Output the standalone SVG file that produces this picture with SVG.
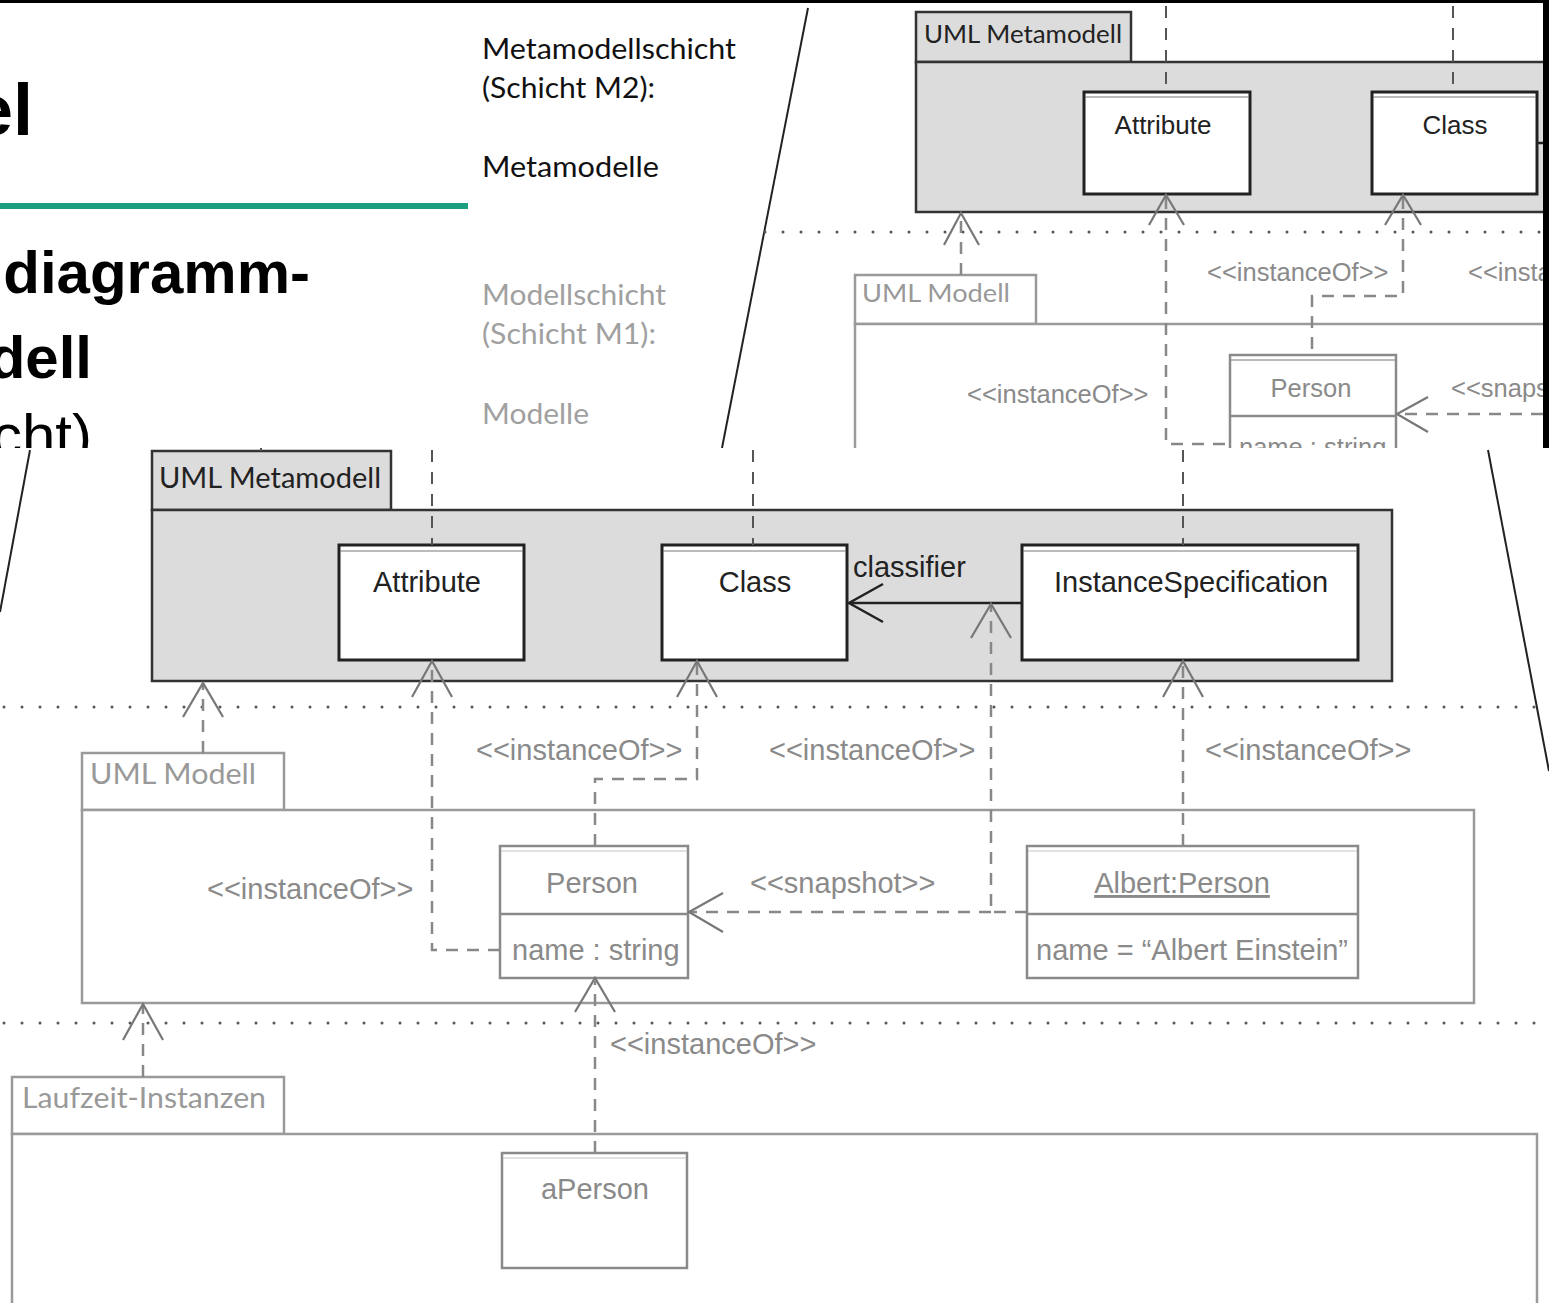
<svg xmlns="http://www.w3.org/2000/svg" width="1549" height="1303" viewBox="0 0 1549 1303">
<defs>
<style>
.ttl{font-family:"Liberation Sans",Arial,sans-serif;font-weight:bold;fill:#000}
.ttr{font-family:"Liberation Sans",Arial,sans-serif;fill:#000}
.cal{font-family:Lato,"Open Sans",sans-serif}
.ar{font-family:"Liberation Sans",Arial,sans-serif}
.pkgd{fill:#dcdcdc;stroke:#333;stroke-width:2.5}
.boxd{fill:#fff;stroke:#222;stroke-width:3}
.inner{fill:none;stroke:#777;stroke-width:1}
.pkgl{fill:#fff;stroke:#9a9a9a;stroke-width:2.5}
.boxl{fill:#fff;stroke:#8a8a8a;stroke-width:2.5}
.dashd{fill:none;stroke:#555;stroke-width:2;stroke-dasharray:12 10}
.dashl{fill:none;stroke:#888;stroke-width:2.5;stroke-dasharray:12 9}
.dots{fill:none;stroke:#555;stroke-width:3;stroke-dasharray:0 18;stroke-linecap:round}
.head{fill:none;stroke:#777;stroke-width:2.2}
.headd{fill:none;stroke:#222;stroke-width:2.5}
.zoomln{fill:none;stroke:#222;stroke-width:2}
.td{fill:#222}
.tg{fill:#8a8a8a}
.tc{fill:#999}
</style>
<clipPath id="clipTop"><rect x="0" y="0" width="1543" height="448"/></clipPath>
</defs>
<rect x="0" y="0" width="1549" height="1303" fill="#fff"/>

<!-- ===== Upper slide region ===== -->
<g id="slide" clip-path="url(#clipTop)">
  <text class="ttl" x="33" y="135" font-size="72" text-anchor="end">el</text>
  <rect x="0" y="203" width="468" height="6" fill="#1b9e7f"/>
  <text class="ttl" x="310" y="293" font-size="60" text-anchor="end">diagramm-</text>
  <text class="ttl" x="92" y="378" font-size="60" text-anchor="end">dell</text>
  <text class="ttr" x="92" y="456" font-size="60" text-anchor="end">cht)</text>

  <g id="layer-labels" class="cal" font-size="29">
    <text x="482" y="59" fill="#111" textLength="254" lengthAdjust="spacingAndGlyphs">Metamodellschicht</text>
    <text x="482" y="98" fill="#111" textLength="173" lengthAdjust="spacingAndGlyphs">(Schicht M2):</text>
    <text x="482" y="177" fill="#111" textLength="177" lengthAdjust="spacingAndGlyphs">Metamodelle</text>
    <text x="482" y="305" fill="#a0a0a0" textLength="184" lengthAdjust="spacingAndGlyphs">Modellschicht</text>
    <text x="482" y="344" fill="#a0a0a0" textLength="174" lengthAdjust="spacingAndGlyphs">(Schicht M1):</text>
    <text x="482" y="424" fill="#a0a0a0" textLength="107" lengthAdjust="spacingAndGlyphs">Modelle</text>
  </g>

  <line class="zoomln" x1="808" y1="8" x2="722" y2="448"/>

  <!-- small diagram (upper right) -->
  <g id="top-uml-metamodell">
    <rect class="pkgd" x="916" y="12" width="215" height="50"/>
    <rect class="pkgd" x="916" y="62" width="660" height="150"/>
    <text class="cal td" x="924" y="43" font-size="25" textLength="198" lengthAdjust="spacingAndGlyphs">UML Metamodell</text>
  </g>
  <g id="top-attribute">
    <rect class="boxd" x="1084" y="92" width="166" height="102"/>
    <line class="inner" x1="1085" y1="97" x2="1249" y2="97"/>
    <text class="ar td" x="1163" y="134" font-size="26" text-anchor="middle">Attribute</text>
  </g>
  <g id="top-class">
    <rect class="boxd" x="1372" y="92" width="165" height="102"/>
    <line class="inner" x1="1373" y1="97" x2="1536" y2="97"/>
    <text class="ar td" x="1455" y="134" font-size="26" text-anchor="middle">Class</text>
  </g>
  <g id="top-uml-modell">
    <rect class="pkgl" x="855" y="275" width="181" height="49"/>
    <rect class="pkgl" x="855" y="324" width="720" height="200"/>
    <text class="cal tc" x="862" y="302" font-size="25" textLength="148" lengthAdjust="spacingAndGlyphs">UML Modell</text>
  </g>
  <g id="top-person">
    <rect class="boxl" x="1230" y="355" width="166" height="120"/>
    <line class="inner" x1="1231" y1="360" x2="1395" y2="360" stroke="#bbb"/>
    <line x1="1230" y1="416" x2="1396" y2="416" stroke="#8a8a8a" stroke-width="2.5"/>
    <text class="ar tg" x="1311" y="397" font-size="25.5" text-anchor="middle">Person</text>
    <text class="ar tg" x="1239" y="456" font-size="25.5">name : string</text>
  </g>
  <g id="top-connectors">
    <line class="dashd" x1="1166" y1="6" x2="1166" y2="92"/>
    <line class="dashd" x1="1453" y1="6" x2="1453" y2="92"/>
    <line class="dots" x1="765" y1="232" x2="1543" y2="232"/>
    <path class="dashl" d="M961,275 V214"/>
    <polyline class="head" points="944,245 961,213 979,245"/>
    <path class="dashl" d="M1166,197 V444 H1230"/>
    <polyline class="head" points="1149,225 1166,195 1184,225"/>
    <path class="dashl" d="M1403,197 V296 H1312 V355"/>
    <polyline class="head" points="1385,225 1403,195 1421,225"/>
    <path class="dashl" d="M1543,414 H1398"/>
    <polyline class="head" points="1428,397 1397,414 1428,432"/>
    <line x1="1537" y1="143" x2="1543" y2="143" stroke="#222" stroke-width="2.5"/>
  </g>
  <g id="top-labels" class="ar tg" font-size="25.5">
    <text x="1207" y="281">&lt;&lt;instanceOf&gt;&gt;</text>
    <text x="1468" y="281">&lt;&lt;insta</text>
    <text x="967" y="403">&lt;&lt;instanceOf&gt;&gt;</text>
    <text x="1451" y="397">&lt;&lt;snaps</text>
  </g>
</g>
<rect x="0" y="0" width="1549" height="3" fill="#000"/>
<rect x="1543" y="0" width="6" height="448" fill="#000"/>

<!-- ===== Lower (enlarged) region ===== -->
<rect x="0" y="448" width="1549" height="855" fill="#fff"/>

<g id="uml-metamodell">
  <rect class="pkgd" x="152" y="451" width="239" height="59"/>
  <rect class="pkgd" x="152" y="510" width="1240" height="171"/>
  <line x1="261" y1="448" x2="261" y2="451" stroke="#555" stroke-width="2"/>
  <text class="cal td" x="159" y="488" font-size="28" textLength="222" lengthAdjust="spacingAndGlyphs">UML Metamodell</text>
</g>
<g id="attribute">
  <rect class="boxd" x="339" y="545" width="185" height="115"/>
  <line class="inner" x1="340" y1="551" x2="523" y2="551"/>
  <text class="ar td" x="427" y="592" font-size="29" text-anchor="middle">Attribute</text>
</g>
<g id="class">
  <rect class="boxd" x="662" y="545" width="185" height="115"/>
  <line class="inner" x1="663" y1="551" x2="846" y2="551"/>
  <text class="ar td" x="755" y="592" font-size="29" text-anchor="middle">Class</text>
</g>
<g id="instance-specification">
  <rect class="boxd" x="1022" y="545" width="336" height="115"/>
  <line class="inner" x1="1023" y1="551" x2="1357" y2="551"/>
  <text class="ar td" x="1191" y="592" font-size="29" text-anchor="middle">InstanceSpecification</text>
</g>

<g id="uml-modell">
  <rect class="pkgl" x="82" y="753" width="202" height="57"/>
  <rect class="pkgl" x="82" y="810" width="1392" height="193"/>
  <text class="cal tc" x="90" y="784" font-size="28" textLength="166" lengthAdjust="spacingAndGlyphs">UML Modell</text>
</g>
<g id="person">
  <rect class="boxl" x="500" y="846" width="188" height="132"/>
  <line x1="501" y1="851" x2="687" y2="851" stroke="#c4c4c4" stroke-width="1"/>
  <line x1="500" y1="914" x2="688" y2="914" stroke="#8a8a8a" stroke-width="2.5"/>
  <text class="ar tg" x="592" y="893" font-size="29" text-anchor="middle">Person</text>
  <text class="ar tg" x="512" y="960" font-size="29">name : string</text>
</g>
<g id="albert-person">
  <rect class="boxl" x="1027" y="846" width="331" height="132"/>
  <line x1="1028" y1="851" x2="1357" y2="851" stroke="#c4c4c4" stroke-width="1"/>
  <line x1="1027" y1="914" x2="1358" y2="914" stroke="#8a8a8a" stroke-width="2.5"/>
  <text class="ar tg" x="1182" y="893" font-size="29" text-anchor="middle" text-decoration="underline">Albert:Person</text>
  <text class="ar tg" x="1192" y="960" font-size="29" text-anchor="middle">name = “Albert Einstein”</text>
</g>

<g id="laufzeit-instanzen">
  <rect class="pkgl" x="12" y="1077" width="272" height="57"/>
  <rect class="pkgl" x="12" y="1134" width="1525" height="180"/>
  <text class="cal tc" x="22" y="1108" font-size="28" textLength="244" lengthAdjust="spacingAndGlyphs">Laufzeit-Instanzen</text>
</g>
<g id="aperson">
  <rect class="boxl" x="502" y="1153" width="185" height="115"/>
  <line x1="503" y1="1158" x2="686" y2="1158" stroke="#c4c4c4" stroke-width="1"/>
  <text class="ar tg" x="595" y="1199" font-size="29" text-anchor="middle">aPerson</text>
</g>

<g id="connectors">
  <line class="dots" x1="4" y1="707" x2="1549" y2="707"/>
  <line class="dots" x1="4" y1="1023" x2="1549" y2="1023"/>

  <line class="dashd" x1="432" y1="450" x2="432" y2="545"/>
  <line class="dashd" x1="753" y1="450" x2="753" y2="545"/>
  <line class="dashd" x1="1183" y1="450" x2="1183" y2="545"/>

  <line x1="1022" y1="603" x2="849" y2="603" stroke="#222" stroke-width="2.5"/>
  <polyline class="headd" points="883,584 849,603 883,622"/>
  <text class="ar td" x="853" y="577" font-size="29">classifier</text>

  <path class="dashl" d="M203,753 V685"/>
  <polyline class="head" points="183,717 203,683 223,717"/>

  <path class="dashl" d="M500,950 H432 V663"/>
  <polyline class="head" points="412,697 432,661 452,697"/>

  <path class="dashl" d="M595,846 V779 H697 V663"/>
  <polyline class="head" points="677,697 697,661 717,697"/>

  <path class="dashl" d="M1027,912 H991 V606"/>
  <polyline class="head" points="971,638 991,604 1011,638"/>

  <path class="dashl" d="M1183,846 V663"/>
  <polyline class="head" points="1163,697 1183,661 1203,697"/>

  <path class="dashl" d="M991,912 H690"/>
  <polyline class="head" points="723,893 689,912 723,932"/>

  <path class="dashl" d="M143,1077 V1006"/>
  <polyline class="head" points="123,1040 143,1004 163,1040"/>

  <path class="dashl" d="M595,1153 V981"/>
  <polyline class="head" points="575,1012 595,978 615,1012"/>

  <g class="ar tg" font-size="29">
    <text x="476" y="760">&lt;&lt;instanceOf&gt;&gt;</text>
    <text x="769" y="760">&lt;&lt;instanceOf&gt;&gt;</text>
    <text x="1205" y="760">&lt;&lt;instanceOf&gt;&gt;</text>
    <text x="207" y="899">&lt;&lt;instanceOf&gt;&gt;</text>
    <text x="750" y="893">&lt;&lt;snapshot&gt;&gt;</text>
    <text x="610" y="1054">&lt;&lt;instanceOf&gt;&gt;</text>
  </g>
</g>

<line class="zoomln" x1="30" y1="450" x2="0" y2="612"/>
<line class="zoomln" x1="1488" y1="450" x2="1549" y2="771"/>
</svg>
